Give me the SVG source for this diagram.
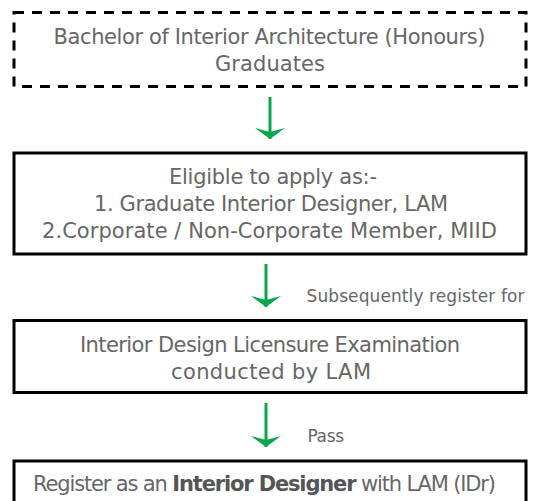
<svg xmlns="http://www.w3.org/2000/svg" width="540" height="501" viewBox="0 0 540 501">
<style>
.box{fill:#ffffff;stroke:#000000;stroke-width:3}
.dash{stroke-dasharray:10 8}
.t{font-family:"DejaVu Sans","Liberation Sans",sans-serif;font-size:21px;fill:#666666}
.lbl{font-family:"DejaVu Sans","Liberation Sans",sans-serif;font-size:17px;fill:#666666}
.b{font-weight:bold;fill:#555555}
.arr{stroke:#0aa64f;stroke-width:3;fill:none}
</style>
<defs>
<marker id="head" viewBox="0 0 11 30" markerWidth="11" markerHeight="30" refX="11" refY="15" orient="auto" markerUnits="userSpaceOnUse">
<path d="M0,0 L11,15 L0,30 L4,15 Z" fill="#0aa64f"/>
</marker>
</defs>
<rect width="540" height="501" fill="#ffffff"/>
<g id="node-graduates">
<rect class="box dash" x="14" y="12.5" width="512" height="74"/>
<text class="t" x="53.5" y="43.5" textLength="432" lengthAdjust="spacing">Bachelor of Interior Architecture (Honours)</text>
<text class="t" x="215" y="71" textLength="110" lengthAdjust="spacing">Graduates</text>
</g>
<g id="node-eligible">
<rect class="box" x="14" y="153" width="512" height="101"/>
<text class="t" x="169" y="183.5" textLength="208" lengthAdjust="spacing">Eligible to apply as:-</text>
<text class="t" x="94" y="210.5" textLength="354" lengthAdjust="spacing">1. Graduate Interior Designer, LAM</text>
<text class="t" x="42" y="238" textLength="455" lengthAdjust="spacing">2.Corporate / Non-Corporate Member, MIID</text>
</g>
<g id="node-exam">
<rect class="box" x="14" y="320.5" width="512" height="72"/>
<text class="t" x="80" y="351.5" textLength="380" lengthAdjust="spacing">Interior Design Licensure Examination</text>
<text class="t" x="171" y="379" textLength="200" lengthAdjust="spacing">conducted by LAM</text>
</g>
<g id="node-register">
<rect class="box" x="14" y="461" width="512" height="60"/>
<text class="t" x="33" y="491" textLength="463" lengthAdjust="spacing">Register as an <tspan class="b">Interior Designer</tspan> with LAM (IDr)</text>
</g>
<g id="connectors">
<line class="arr" x1="270" y1="97" x2="270" y2="139" marker-end="url(#head)"/>
<line class="arr" x1="266" y1="264" x2="266" y2="307" marker-end="url(#head)"/>
<text class="lbl" x="306.5" y="302" textLength="218" lengthAdjust="spacing">Subsequently register for</text>
<line class="arr" x1="266" y1="403" x2="266" y2="447" marker-end="url(#head)"/>
<text class="lbl" x="307.5" y="441.5" textLength="36.5" lengthAdjust="spacing">Pass</text>
</g>
</svg>
